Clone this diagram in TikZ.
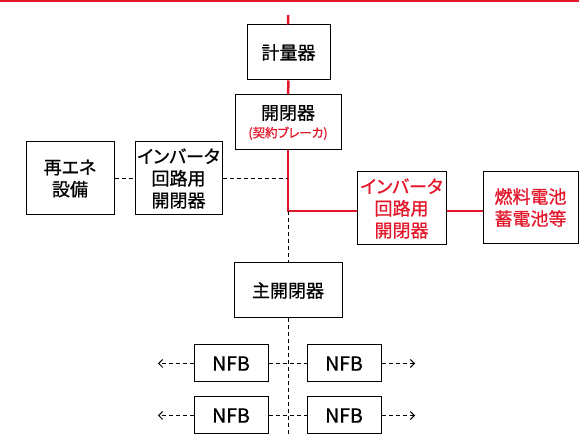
\documentclass[tikz,border=0pt]{standalone}
\usepackage{fontspec}
\setmainfont{Noto Sans CJK JP}[RawFeature=+palt]
\newfontfamily\boxfont{Noto Sans CJK JP}[RawFeature=+palt,FakeBold=0.8]
\usetikzlibrary{arrows.meta}
\definecolor{linered}{RGB}{228,22,42}

\begin{document}
\begin{tikzpicture}[x=1pt,y=-1pt,
    box/.style={draw=black,fill=white,line width=1pt,align=center,inner sep=0pt,
      font=\boxfont\fontsize{18}{22}\selectfont},
    nfb/.style={box,minimum width=74pt,minimum height=37pt,
      font=\boxfont\fontsize{19.5}{22}\selectfont},
    feed/.style={draw=linered,line width=2.5pt},
    branch/.style={draw=black,line width=1pt,dash pattern=on 4pt off 3pt},
    outlet/.style={branch,-{Straight Barb[length=4pt,width=8pt]}}
  ]
  \useasboundingbox (0,0) rectangle (579,435);
  \draw[linered,line width=2pt] (0,1) -- (579,1);

  \coordinate (supply) at (288,15);
  \coordinate (tee) at (288,211);
  \coordinate (bottom) at (288,435);

  \node[box,minimum width=83pt,minimum height=55pt] (meter) at (288.5,52.5) {計量器};
  \node[box,minimum width=106pt,minimum height=55pt] (breaker) at (288,122.5)
    {\raisebox{-3pt}{開閉器}\\[-1pt]{\color{linered}\fontsize{12.5}{14}\selectfont (契約ブレーカ)}};
  \node[box,minimum width=88pt,minimum height=73pt] (renew) at (70,178.5) {再エネ\\設備};
  \node[box,minimum width=87pt,minimum height=73pt] (invL) at (178.5,178.5)
    {インバータ\\回路用\\開閉器};
  \node[box,text=linered,minimum width=89pt,minimum height=73pt] (invR) at (401.5,208.5)
    {インバータ\\回路用\\開閉器};
  \node[box,text=linered,minimum width=95pt,minimum height=72pt] (fuel) at (530.5,207.5)
    {燃料電池\\蓄電池等};
  \node[box,minimum width=108pt,minimum height=55pt] (main) at (288,290.5) {主開閉器};

  \draw[feed] (supply) -- (meter);
  \draw[feed] (meter) -- (breaker);
  \draw[feed] (breaker) -- (tee) -- (invR.west |- tee);
  \draw[feed] (invR.east |- tee) -- (fuel.west |- tee);

  \draw[branch] (renew) -- (invL);
  \draw[branch] (invL.east) -- (invL.east -| tee);
  \draw[branch] (tee) -- (main);
  \draw[branch] (main) -- (bottom);

  \foreach \r/\yy in {1/363.5,2/415.5} {
    \node[nfb] (nfbL\r) at (231,\yy) {NFB};
    \node[nfb] (nfbR\r) at (344,\yy) {NFB};
    \coordinate (outL\r) at (158,\yy);
    \coordinate (outR\r) at (415,\yy);
    \draw[branch] (nfbL\r) -- (nfbR\r);
    \draw[outlet] (nfbL\r) -- (outL\r);
    \draw[outlet] (nfbR\r) -- (outR\r);
  }
\end{tikzpicture}
\end{document}
